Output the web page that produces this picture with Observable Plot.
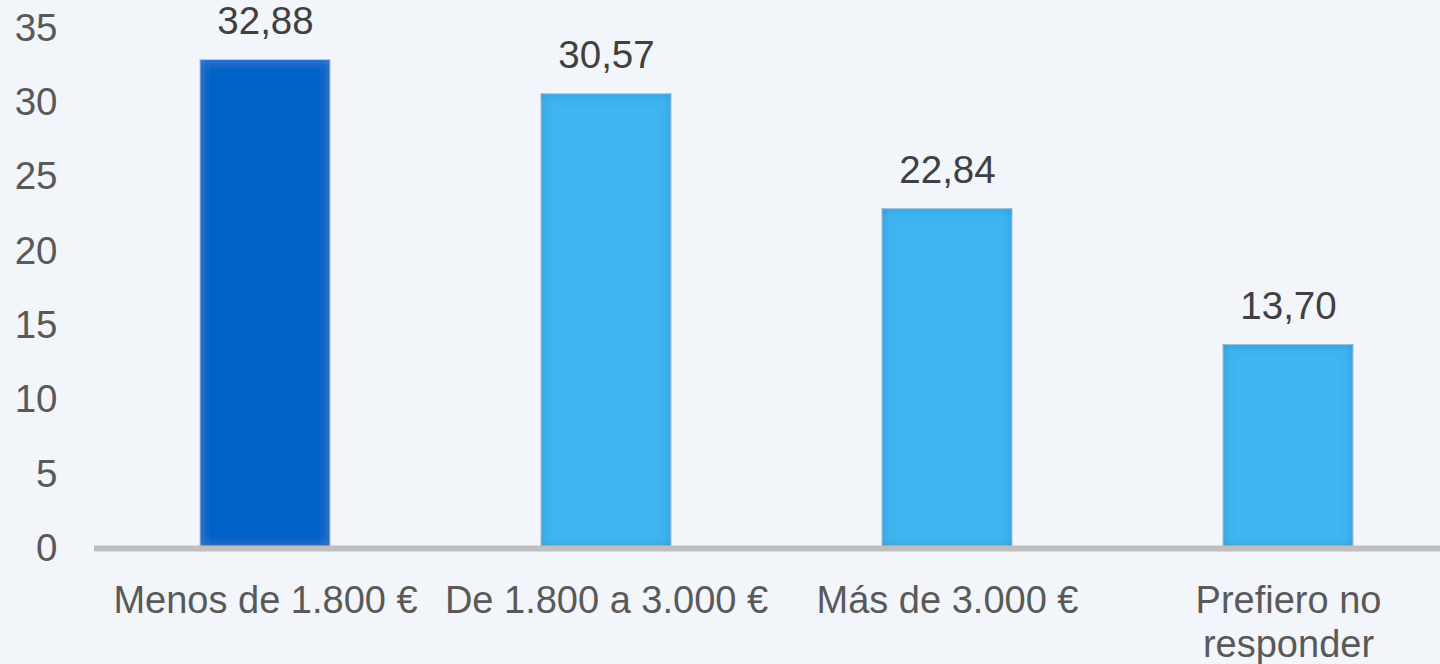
<!DOCTYPE html>
<html><head><meta charset="utf-8">
<script src="https://cdn.jsdelivr.net/npm/d3@7"></script>
<script src="https://cdn.jsdelivr.net/npm/@observablehq/plot@0.6"></script>
<style>
html,body{margin:0;padding:0;background:#F2F5FA;}
#chart svg{display:block;}
</style></head><body><div id="chart"></div>
<script>
const categories = ["Menos de 1.800 €", "De 1.800 a 3.000 €", "Más de 3.000 €", "Prefiero no responder"];
const tickLabels = ["Menos de 1.800 €", "De 1.800 a 3.000 €", "Más de 3.000 €", "Prefiero no\nresponder"];
const values = [32.88, 30.57, 22.84, 13.70];
const valueLabels = ["32,88", "30,57", "22,84", "13,70"];
const highlight = [true, false, false, false];
const yTicks = [0, 5, 10, 15, 20, 25, 30, 35];

const data = categories.map((c, i) => ({category: c, value: values[i], label: valueLabels[i], hl: highlight[i]}));

const font = "'Liberation Sans', Arial, sans-serif";
const chart = Plot.plot({
  width: 1440, height: 664,
  marginLeft: 94, marginRight: 0, marginTop: 28, marginBottom: 116,
  style: {background: "#F2F5FA", fontFamily: font, fontSize: "38px", overflow: "visible"},
  x: {domain: categories, paddingInner: 0.62, paddingOuter: 0.2835, align: 0.548, label: null},
  y: {domain: [0, 35], label: null},
  color: {domain: [true, false], range: ["#0563C7", "#41B5F1"]},
  marks: [
    Plot.barY(data, {x: "category", y: "value", fill: "hl", stroke: "#CFD4DA", strokeWidth: 1}),
    Plot.ruleY([0], {stroke: "#BFBFBF", strokeWidth: 6}),
    Plot.text(data, {x: "category", y: "value", text: "label", lineAnchor: "bottom", dy: -26, fill: "#404040", fontSize: 38.5, fontFamily: font}),
    Plot.axisY({ticks: yTicks, tickSize: 0, tickPadding: 37, color: "#595959", fontSize: 38.5, label: null}),
    Plot.axisX({tickSize: 0, tickPadding: 34, tickFormat: d => tickLabels[categories.indexOf(d)], color: "#595959", fontSize: 38, lineHeight: 1.14, label: null})
  ]
});

const svg = d3.select(chart);
const defs = svg.insert("defs", ":first-child");
function innerShadow(id, color, op) {
  const f = defs.append("filter").attr("id", id).attr("x", "-10%").attr("y", "-10%").attr("width", "120%").attr("height", "120%");
  f.append("feFlood").attr("flood-color", color).attr("flood-opacity", op).attr("result", "flood");
  f.append("feComposite").attr("in", "flood").attr("in2", "SourceAlpha").attr("operator", "out").attr("result", "outside");
  f.append("feGaussianBlur").attr("in", "outside").attr("stdDeviation", 6).attr("result", "blur");
  f.append("feComposite").attr("in", "blur").attr("in2", "SourceAlpha").attr("operator", "in").attr("result", "shadow");
  const m = f.append("feMerge");
  m.append("feMergeNode").attr("in", "SourceGraphic");
  m.append("feMergeNode").attr("in", "shadow");
}
innerShadow("shadowLight", "#1B6FB5", 0.6);
innerShadow("shadowDark", "#6A9BDD", 0.45);
svg.selectAll('g[aria-label="bar"] rect').each(function(d, i) {
  d3.select(this).attr("filter", highlight[i] ? "url(#shadowDark)" : "url(#shadowLight)");
});

document.getElementById("chart").appendChild(chart);
</script>
</body></html>
